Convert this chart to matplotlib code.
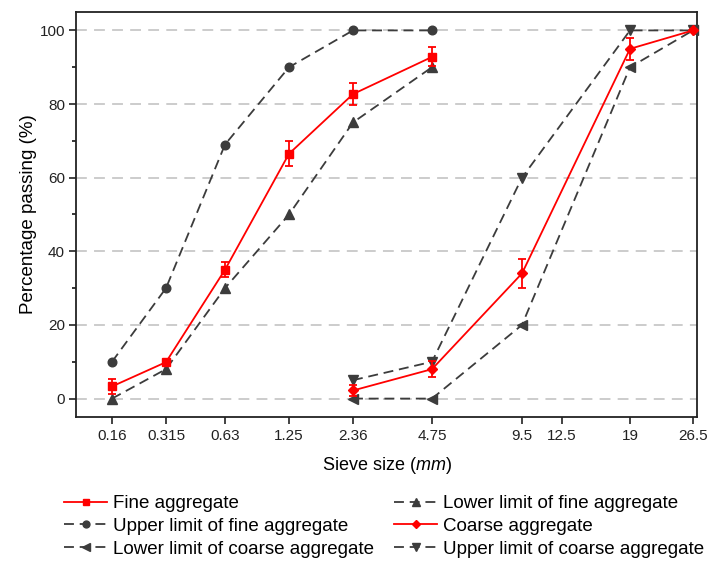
import numpy as np
import matplotlib
matplotlib.use("Agg")
import matplotlib.pyplot as plt
from matplotlib.scale import FuncScale

plt.rcParams["font.family"] = ["Liberation Sans", "DejaVu Sans"]
plt.rcParams["mathtext.fontset"] = "custom"
plt.rcParams["mathtext.rm"] = "Liberation Sans"
plt.rcParams["mathtext.it"] = "Liberation Sans:italic"

# Sieve sizes (mm) and tick labels
sieve_sizes = [0.16, 0.315, 0.63, 1.25, 2.36, 4.75, 9.5, 12.5, 19, 26.5]
sieve_labels = ["0.16", "0.315", "0.63", "1.25", "2.36", "4.75", "9.5", "12.5", "19", "26.5"]

# Fine aggregate gradation
fine_sizes = [0.16, 0.315, 0.63, 1.25, 2.36, 4.75]
fine_pass = [3.3, 9.9, 35.0, 66.5, 82.7, 92.8]
fine_err = [2.0, 0.6, 2.0, 3.4, 3.0, 2.6]
fine_upper = [10, 30, 69, 90, 100, 100]
fine_lower = [0, 8, 30, 50, 75, 90]

# Coarse aggregate gradation
coarse_sizes = [2.36, 4.75, 9.5, 19, 26.5]
coarse_pass = [2.2, 8.0, 34.0, 95.0, 100.0]
coarse_err = [1.5, 2.2, 4.0, 3.0, 0.0]
coarse_upper = [5, 10, 60, 100, 100]
coarse_lower = [0, 0, 20, 90, 100]

# Axis layout: relative position of each sieve on the horizontal axis
axis_pos = np.array([112, 166, 225, 289, 353, 432, 522, 562, 630, 693], float)
axis_left, axis_right = 76.0, 697.0
log_sizes = np.log10(sieve_sizes)


def _interp_ext(x, xp, fp):
    x = np.asarray(x, float)
    out = np.interp(x, xp, fp)
    lo = x < xp[0]
    hi = x > xp[-1]
    out = np.where(lo, fp[0] + (x - xp[0]) * (fp[1] - fp[0]) / (xp[1] - xp[0]), out)
    out = np.where(hi, fp[-1] + (x - xp[-1]) * (fp[-1] - fp[-2]) / (xp[-1] - xp[-2]), out)
    return out


def forward(x):
    x = np.asarray(x, float)
    return _interp_ext(np.log10(np.clip(x, 1e-9, None)), log_sizes, axis_pos)


def inverse(p):
    return 10 ** _interp_ext(p, axis_pos, log_sizes)


fig = plt.figure(figsize=(7.07, 5.63), dpi=100)
ax = fig.add_axes([76 / 707, 1 - 417 / 563, (697 - 76) / 707, (417 - 12) / 563])
ax.set_xscale(FuncScale(ax.xaxis, (forward, inverse)))

red = "#ff0000"
grey = "#3c3c3c"
dash = (5.5, 3.2)

h_fu, = ax.plot(fine_sizes, fine_upper, color=grey, lw=1.3, dashes=dash, marker="o", ms=6.2,
                zorder=3, clip_on=False)
h_fl, = ax.plot(fine_sizes, fine_lower, color=grey, lw=1.3, dashes=dash, marker="^", ms=6.5,
                zorder=3, clip_on=False)
h_cl, = ax.plot(coarse_sizes, coarse_lower, color=grey, lw=1.3, dashes=dash, marker="<", ms=6.5,
                zorder=3, clip_on=False)
h_cu, = ax.plot(coarse_sizes, coarse_upper, color=grey, lw=1.3, dashes=dash, marker="v", ms=6.5,
                zorder=3, clip_on=False)

eb_f = ax.errorbar(fine_sizes, fine_pass, yerr=fine_err, color=red, lw=1.3, marker="s", ms=5.5,
                   capsize=2.6, elinewidth=1.3, capthick=1.3, zorder=5, clip_on=False)
eb_c = ax.errorbar(coarse_sizes, coarse_pass, yerr=coarse_err, color=red, lw=1.3, marker="D",
                   ms=5.2, capsize=2.6, elinewidth=1.3, capthick=1.3, zorder=5, clip_on=False)

ax.set_xlim(inverse(axis_left), inverse(axis_right))
ax.set_ylim(-5, 105)
ax.set_xticks(sieve_sizes)
ax.set_xticklabels(sieve_labels)
ax.xaxis.set_minor_locator(matplotlib.ticker.NullLocator())
ax.set_yticks([0, 20, 40, 60, 80, 100])
ax.set_yticks([10, 30, 50, 70, 90], minor=True)

ax.yaxis.grid(True, which="major", color="#c8c8c8", lw=1.3, dashes=(6, 4))
ax.set_axisbelow(True)

for s in ax.spines.values():
    s.set_linewidth(1.3)
    s.set_color("#222222")
ax.tick_params(axis="both", which="major", direction="out", length=5, width=1.2,
               labelsize=11, top=False, right=False, colors="#222222")
ax.tick_params(axis="y", which="minor", direction="out", length=3, width=1.1, right=False)
ax.tick_params(axis="y", which="major", pad=3)

ax.set_xlabel(r"Sieve size ($\it{mm}$)", fontsize=13, labelpad=9)
ax.set_ylabel("Percentage passing (%)", fontsize=13.5, labelpad=2)

handles = [eb_f.lines[0], h_fu, h_cl, h_fl, eb_c.lines[0], h_cu]
labels = ["Fine aggregate", "Upper limit of fine aggregate", "Lower limit of coarse aggregate",
          "Lower limit of fine aggregate", "Coarse aggregate", "Upper limit of coarse aggregate"]
leg = fig.legend(handles, labels, ncol=2, loc="upper left",
                 bbox_to_anchor=(64 / 707, 1 - 495 / 563), frameon=False, fontsize=13.5,
                 handlelength=2.3, columnspacing=1.05, labelspacing=0.3, handletextpad=0.33,
                 borderpad=0, borderaxespad=0, markerscale=0.8)

fig.savefig("out.png", dpi=100)
